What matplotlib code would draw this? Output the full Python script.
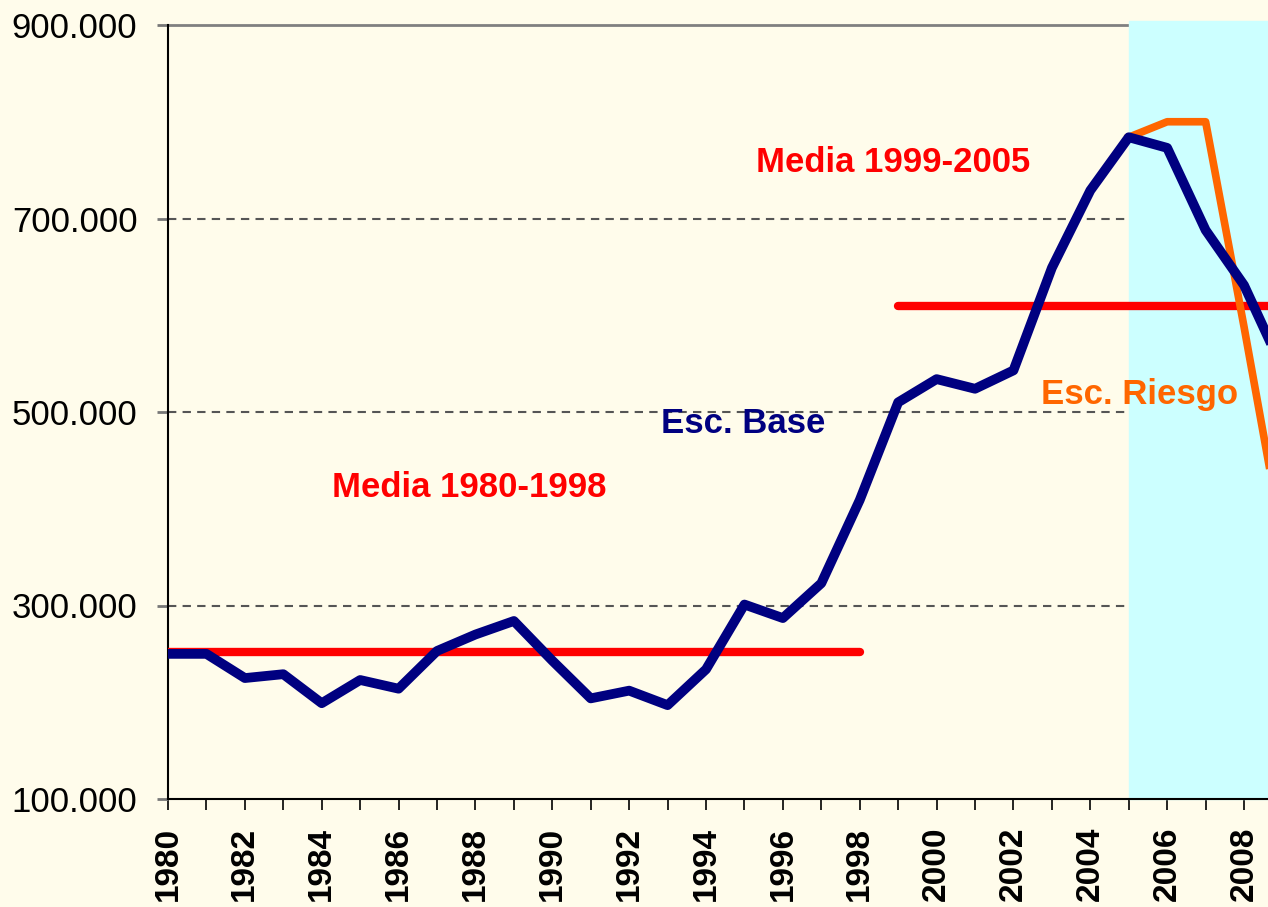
import numpy as np
import matplotlib.pyplot as plt

plt.rcParams["font.family"] = ["Liberation Sans", "DejaVu Sans"]

# thousands of units
years = list(range(1980, 2010))
base = [250, 250, 225, 229, 199, 223, 214, 253, 270, 284,
        243, 204, 212, 197, 234, 301, 287, 323, 409, 510,
        534, 524, 543, 649, 729, 784, 773, 688, 631, 545]
riesgo_years = [2005, 2006, 2007, 2008, 2009]
riesgo = [784, 800, 800, 588, 368]
media1_years = [1980, 1998]
media1 = [252, 252]
media2_years = [1999, 2010]
media2 = [610, 610]

cream = "#FFFCEB"
fig = plt.figure(figsize=(12.68, 9.07), dpi=100, facecolor=cream)
ax = fig.add_axes([168 / 1268, 1 - 799 / 907, 1 - 168 / 1268, 774 / 907])
ax.set_facecolor(cream)

for v in [300, 500, 700]:
    ax.axhline(v, color="#555555", ls=(0, (4, 3)), lw=1.5, zorder=1)
ax.axvspan(2005, 2012, ymin=0, ymax=1.005, color="#CCFFFF", zorder=2, clip_on=False)

ax.plot(media1_years, media1, color="#FF0000", lw=6, solid_capstyle="round", zorder=3)
ax.plot(media2_years, media2, color="#FF0000", lw=6, solid_capstyle="round", zorder=3)
ax.plot(riesgo_years, riesgo, color="#FF6600", lw=5.5, zorder=4)
ax.plot(years, base, color="#000080", lw=7, zorder=5)

lab = dict(fontsize=25, fontweight="bold", ha="center", va="center")
ax.text(1998.87, 758, "Media 1999-2005", color="#FF0000", **lab)
ax.text(1987.83, 422, "Media 1980-1998", color="#FF0000", **lab)
ax.text(1994.96, 488, "Esc. Base", color="#000080", **lab)
ax.text(2005.27, 518, "Esc. Riesgo", color="#FF6600", **lab)

ax.set_yticks([100, 300, 500, 700, 900])
ax.set_yticklabels(["100.000", "300.000", "500.000", "700.000", "900.000"], fontsize=25)
ax.set_xticks(years)
ax.set_xticklabels([str(y) if y % 2 == 0 else "" for y in years],
                   rotation=90, fontsize=24, fontweight="bold")
ax.set_xlim(1980, 1980 + 1100 / 38.43)
ax.set_ylim(100, 900)
ax.tick_params(axis="x", length=8, width=1.2, pad=12, colors="black")
ax.tick_params(axis="y", length=8, width=2, color="#777777", pad=14)

ax.spines["right"].set_visible(False)
ax.spines["top"].set_color("#808080")
ax.spines["top"].set_linewidth(2)
ax.spines["top"].set_zorder(1.5)
ax.spines["left"].set_linewidth(1.5)
ax.spines["bottom"].set_linewidth(1.5)

fig.savefig("out.png", dpi=100, facecolor=cream)
